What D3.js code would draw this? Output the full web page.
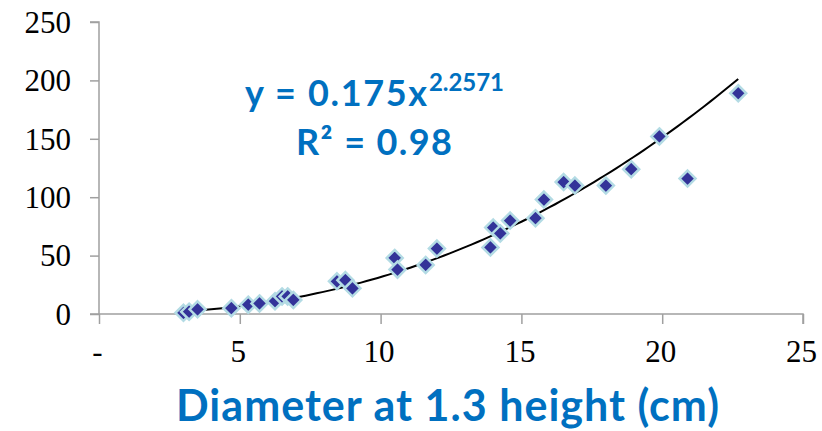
<!DOCTYPE html>
<html><head><meta charset="utf-8">
<script src="https://cdn.jsdelivr.net/npm/d3@7"></script>
<style>html,body{margin:0;padding:0;background:#fff;}svg{display:block;}</style>
</head><body>
<svg id="chart" width="822" height="431"></svg>
<script>
const diameters = [3.0, 3.2, 3.5, 4.7, 5.3, 5.7, 6.25, 6.5, 6.7, 6.9, 8.45, 8.75, 9.0, 10.5, 10.6, 11.6, 12.0, 13.9, 14.0, 14.25, 14.6, 15.5, 15.8, 16.5, 16.9, 18.0, 18.9, 19.9, 20.9, 22.7];
const volumes   = [1, 2, 4, 5, 8, 9, 11, 15, 15, 12, 28, 29, 22, 48, 38, 42, 56, 57, 74, 69, 80, 82, 98, 113, 110, 110, 124, 152, 116, 189];
const xTicks = [0, 5, 10, 15, 20, 25];
const xTickLabels = ["-", "5", "10", "15", "20", "25"];
const yTicks = [0, 50, 100, 150, 200, 250];
const fitA = 0.175, fitB = 2.2571;
const fitR2 = "0.98";
const xTitle = "Diameter at 1.3 height (cm)";

const svg = d3.select("#chart");
const x = d3.scaleLinear().domain([0, 25]).range([99, 803]);
const y = d3.scaleLinear().domain([0, 250]).range([314, 22]);
const axisColor = "#a0a0a0";
const serif = "Liberation Serif, Times New Roman, serif";

// Y axis
const yAxis = d3.axisLeft(y).tickValues(yTicks).tickSize(9).tickPadding(19).tickFormat(d3.format("d"));
const gy = svg.append("g").attr("transform", `translate(${x(0)},0)`).call(yAxis);
gy.select(".domain").attr("stroke", axisColor).attr("stroke-width", 1.5).attr("d", `M-9,${y(250)}H0V${y(0)}`);
gy.selectAll(".tick line").attr("stroke", axisColor).attr("stroke-width", 1.5);
gy.selectAll(".tick text").attr("font-family", serif).attr("font-size", 31).attr("fill", "#000").attr("dy", "0.33em");

// X axis
const xAxis = d3.axisBottom(x).tickValues(xTicks).tickSize(10).tickPadding(16).tickFormat((d, i) => xTickLabels[i]);
const gx = svg.append("g").attr("transform", `translate(0,${y(0)})`).call(xAxis);
gx.select(".domain").attr("stroke", axisColor).attr("stroke-width", 1.5).attr("d", `M${x(0) - 9},0H${x(25)}V10`);
gx.selectAll(".tick line").attr("stroke", axisColor).attr("stroke-width", 1.5);
gx.selectAll(".tick text").attr("font-family", serif).attr("font-size", 31).attr("fill", "#000").attr("dx", -2);

// Trend line (power fit from stated equation)
const xMin = d3.min(diameters), xMax = d3.max(diameters);
const fitPts = d3.range(0, 101).map(i => { const xv = xMin + (xMax - xMin) * i / 100; return [xv, fitA * Math.pow(xv, fitB)]; });
svg.append("path").datum(fitPts)
  .attr("d", d3.line().x(d => x(d[0])).y(d => y(d[1])))
  .attr("fill", "none").attr("stroke", "#000").attr("stroke-width", 2);

// Data points
const data = diameters.map((d, i) => ({x: d, y: volumes[i]}));
const r = 8;
svg.append("g").selectAll("path").data(data).join("path")
  .attr("d", `M0,${-r}L${r},0L0,${r}L${-r},0Z`)
  .attr("transform", d => `translate(${x(d.x)},${y(d.y)})`)
  .attr("fill", "#333399").attr("stroke", "#b3dbe4").attr("stroke-width", 2.5);

// Equation
const eqFont = "Lato, Carlito, Calibri, sans-serif";
const blue = "#0070c0";
svg.append("text").attr("x", 245).attr("y", 106)
  .attr("font-family", eqFont).attr("font-weight", "bold").attr("fill", blue).attr("font-size", 36)
  .attr("textLength", 182).attr("lengthAdjust", "spacing")
  .text(`y = ${fitA}x`);
svg.append("text").attr("x", 429).attr("y", 91)
  .attr("font-family", eqFont).attr("font-weight", "bold").attr("fill", blue).attr("font-size", 24)
  .attr("textLength", 75).attr("lengthAdjust", "spacing")
  .text(`${fitB}`);
svg.append("text").attr("x", 296).attr("y", 155)
  .attr("font-family", eqFont).attr("font-weight", "bold").attr("fill", blue).attr("font-size", 36)
  .attr("textLength", 156).attr("lengthAdjust", "spacing")
  .text("R² = " + fitR2);

// X title
svg.append("text").attr("x", 176).attr("y", 421)
  .attr("font-family", eqFont).attr("font-weight", "bold").attr("fill", blue).attr("font-size", 43)
  .attr("textLength", 543).attr("lengthAdjust", "spacing")
  .text(xTitle);
</script>
</body></html>
